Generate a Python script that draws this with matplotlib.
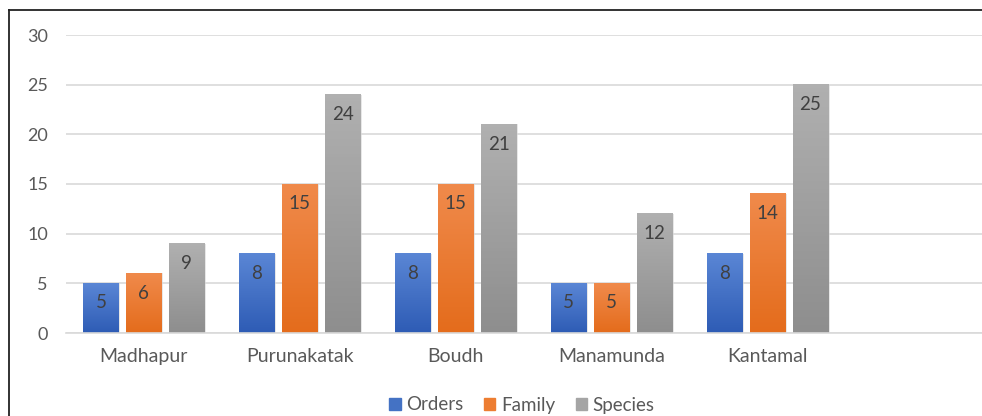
import numpy as np
import matplotlib.pyplot as plt
from matplotlib.colors import LinearSegmentedColormap
from matplotlib.lines import Line2D

places = ['Madhapur', 'Purunakatak', 'Boudh', 'Manamunda', 'Kantamal', '']
orders = [5, 8, 8, 5, 8]
family = [6, 15, 15, 5, 14]
species = [9, 24, 21, 12, 25]
series = ['Orders', 'Family', 'Species']

colors = ['#4472C4', '#ED7D31', '#A5A5A5']
grad = [('#2E5CB5', '#5A86D5'), ('#E46C1C', '#F08A4B'), ('#8E8E8E', '#B0B0B0')]

plt.rcParams['font.family'] = ['Lato', 'DejaVu Sans']

fig = plt.figure(figsize=(9.82, 4.16), dpi=100)
ax = fig.add_axes([66 / 982, 83 / 416, 935 / 982, 298 / 416])

x = np.arange(len(places))
w = 0.225
step = 0.276
values = [orders, family, species]

for i, (name, vals) in enumerate(zip(series, values)):
    xs = x[:len(vals)] + (i - 1) * step
    bars = ax.bar(xs, vals, w, color=colors[i], label=name, zorder=2)
    cmap = LinearSegmentedColormap.from_list('g', [grad[i][0], grad[i][1]])
    for b, v in zip(bars, vals):
        x0, bw, h = b.get_x(), b.get_width(), b.get_height()
        # soft shadow on the right
        ax.bar(x0 + bw / 2 + 0.012, h, bw, color='#d8d8d8', zorder=1.5, alpha=0.6)
        ax.imshow(np.linspace(0, 1, 64).reshape(-1, 1), cmap=cmap, aspect='auto',
                  extent=(x0, x0 + bw, 0, h), origin='lower', zorder=2.5)
        ax.annotate(str(v), (x0 + bw / 2, h), xytext=(0, -8), textcoords='offset points',
                    ha='center', va='top', fontsize=13.5, color='#404040', zorder=3)

ax.set_xlim(-0.5, len(places) - 0.5)
ax.set_ylim(0, 30)
ax.set_yticks(range(0, 31, 5))
ax.set_xticks(x)
ax.set_xticklabels(places)
ax.grid(axis='y', color='#D9D9D9', linewidth=1.2, zorder=0)
ax.set_axisbelow(True)
for s in ['top', 'right', 'left']:
    ax.spines[s].set_visible(False)
ax.spines['bottom'].set_color('#D9D9D9')
ax.spines['bottom'].set_linewidth(1.2)
ax.tick_params(axis='both', length=0, labelcolor='#595959')
ax.tick_params(axis='y', pad=13, labelsize=13)
ax.tick_params(axis='x', pad=11, labelsize=14)

handles = [plt.Rectangle((0, 0), 1, 1, color=c) for c in colors]
fig.legend(handles, series, loc='center', bbox_to_anchor=(522 / 982, 11 / 416), ncol=3,
           frameon=False, fontsize=13.5, handlelength=0.6, handleheight=0.6,
           handletextpad=0.3, columnspacing=1.1, labelcolor='#595959')

# chart border (cropped on right and bottom)
fig.add_artist(Line2D([9 / 982, 1.0], [1 - 10 / 416] * 2, color='#222222', linewidth=1.3))
fig.add_artist(Line2D([9 / 982] * 2, [0, 1 - 10 / 416], color='#222222', linewidth=1.3))

fig.savefig('out.png', dpi=100)
